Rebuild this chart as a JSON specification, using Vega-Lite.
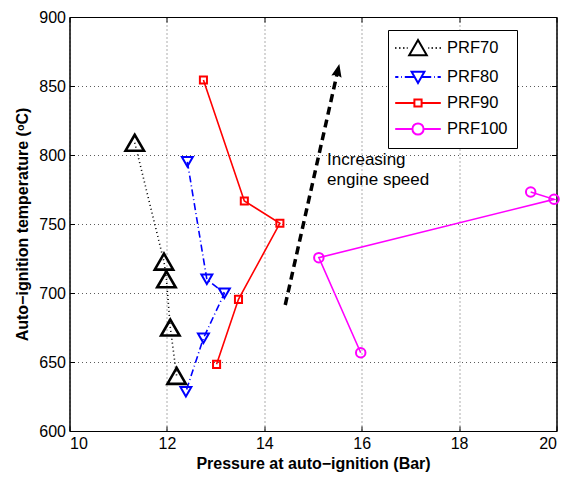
{
  "$schema": "https://vega.github.io/schema/vega-lite/v6.json",
  "width": 487,
  "height": 414,
  "autosize": {"type": "none"},
  "padding": {"left": 69.5, "top": 17, "right": 9.5, "bottom": 48},
  "background": "white",
  "config": {
    "font": "Liberation Sans",
    "view": {"stroke": "black", "strokeWidth": 1},
    "axis": {
      "labelFontSize": 16,
      "labelColor": "black",
      "titleColor": "black",
      "titleFontSize": 16,
      "titleFontWeight": "bold",
      "domainColor": "black",
      "tickColor": "black",
      "tickSize": -5,
      "labelPadding": 9
    },
    "legend": {
      "title": null, "orient": "none", "legendX": 318.5, "legendY": 13,
      "strokeColor": "black", "fillColor": "white", "padding": 9,
      "labelFontSize": 16.5, "labelColor": "black", "symbolSize": 256, "rowPadding": 7, "labelOffset": 20, "symbolOffset": 12,
      "symbolStrokeWidth": 2
    }
  },
  "datasets": {
    "series": [
      {"series": "PRF70", "p": 11.34, "t": 808.9, "ord": 1},
      {"series": "PRF70", "p": 11.94, "t": 722.7, "ord": 2},
      {"series": "PRF70", "p": 11.99, "t": 709.9, "ord": 3},
      {"series": "PRF70", "p": 12.07, "t": 675.0, "ord": 4},
      {"series": "PRF70", "p": 12.2, "t": 639.9, "ord": 5},
      {"series": "PRF80", "p": 12.42, "t": 795.1, "ord": 1},
      {"series": "PRF80", "p": 12.82, "t": 709.9, "ord": 2},
      {"series": "PRF80", "p": 13.18, "t": 699.8, "ord": 3},
      {"series": "PRF80", "p": 12.75, "t": 667.2, "ord": 4},
      {"series": "PRF80", "p": 12.39, "t": 628.5, "ord": 5},
      {"series": "PRF90", "p": 12.75, "t": 854.3, "ord": 1},
      {"series": "PRF90", "p": 13.59, "t": 766.7, "ord": 2},
      {"series": "PRF90", "p": 14.32, "t": 750.5, "ord": 3},
      {"series": "PRF90", "p": 13.47, "t": 695.4, "ord": 4},
      {"series": "PRF90", "p": 13.02, "t": 648.3, "ord": 5},
      {"series": "PRF100", "p": 15.98, "t": 656.7, "ord": 1},
      {"series": "PRF100", "p": 15.12, "t": 725.6, "ord": 2},
      {"series": "PRF100", "p": 19.95, "t": 767.9, "ord": 3},
      {"series": "PRF100", "p": 19.47, "t": 773.2, "ord": 4}
    ],
    "arrow": [
      {"p": 14.43, "t": 691.3, "ord": 1},
      {"p": 15.495, "t": 859.0, "ord": 2}
    ],
    "head": [
      {"p": 15.54, "t": 866.0}
    ],
    "note": [
      {"label": "Increasing\nengine speed", "p": 15.29, "t": 792.8}
    ]
  },
  "layer": [
    {
      "data": {"name": "series"},
      "transform": [{"filter": "datum.series == 'PRF90' || datum.series == 'PRF100'"}],
      "mark": {"type": "line", "strokeWidth": 1.6},
      "encoding": {
        "x": {"field": "p", "type": "quantitative", "scale": {"domain": [10, 20], "nice": false, "zero": false},
          "axis": {"values": [10, 12, 14, 16, 18, 20], "title": "Pressure at auto−ignition (Bar)", "grid": true, "gridColor": "#333", "gridDash": [1, 3], "gridOpacity": 0.8, "titlePadding": 4}},
        "y": {"field": "t", "type": "quantitative", "scale": {"domain": [600, 900], "nice": false, "zero": false},
          "axis": {"values": [600, 650, 700, 750, 800, 850, 900], "title": "Auto−ignition temperature (ᵒC)", "grid": true, "gridColor": "#333", "gridDash": [1, 3], "gridOpacity": 0.8, "titlePadding": 8}},
        "color": {"field": "series", "type": "nominal", "scale": {"domain": ["PRF70", "PRF80", "PRF90", "PRF100"], "range": ["#000000", "#0000ff", "#ff0000", "#ff00ff"]},
          "legend": {
            "encode": {"symbols": {"update": {
              "shape": {"signal": "datum.value == 'PRF70' ? 'M-2.85,0L-2.7,0M-2.35,0L-2.2,0M-1.85,0L-1.7,0M-1.4,0L-1.3,0M1.3,0L1.4,0M1.7,0L1.85,0M2.2,0L2.35,0M2.7,0L2.85,0M0,-1L1.1,0.9L-1.1,0.9Z' : datum.value == 'PRF80' ? 'M-2.85,0L-2.45,0M-2.1,0L-2.0,0M-1.65,0L-0.45,0M0.45,0L1.65,0M2.0,0L2.1,0M2.45,0L2.85,0M-0.8,-0.65L0.8,-0.65L0,0.75Z' : datum.value == 'PRF90' ? 'M-2.85,0L-0.45,0M0.45,0L2.85,0M-0.45,-0.45L0.45,-0.45L0.45,0.45L-0.45,0.45Z' : 'M-2.85,0L-0.7,0M0.7,0L2.85,0M-0.7,0A0.7,0.7,0,1,0,0.7,0A0.7,0.7,0,1,0,-0.7,0Z'"},
              "strokeWidth": {"value": 2}
            }}}
          }},
        "order": {"field": "ord", "type": "quantitative"}
      }
    },
    {
      "data": {"name": "series"},
      "transform": [{"filter": "datum.series == 'PRF70'"}],
      "mark": {"type": "line", "strokeWidth": 1.6, "color": "#000000", "strokeDash": [1, 3]},
      "encoding": {
        "x": {"field": "p", "type": "quantitative", "axis": null},
        "y": {"field": "t", "type": "quantitative", "axis": null},
        "order": {"field": "ord", "type": "quantitative"}
      }
    },
    {
      "data": {"name": "series"},
      "transform": [{"filter": "datum.series == 'PRF80'"}],
      "mark": {"type": "line", "strokeWidth": 1.6, "color": "#0000ff", "strokeDash": [7, 3, 1, 3]},
      "encoding": {
        "x": {"field": "p", "type": "quantitative", "axis": null},
        "y": {"field": "t", "type": "quantitative", "axis": null},
        "order": {"field": "ord", "type": "quantitative"}
      }
    },
    {
      "data": {"name": "series"},
      "transform": [{"filter": "datum.series == 'PRF70'"}],
      "mark": {"type": "point", "filled": false, "opacity": 1, "shape": "triangle-up", "size": 340, "strokeWidth": 2.6, "color": "#000000"},
      "encoding": {
        "x": {"field": "p", "type": "quantitative", "axis": {"orient": "top", "labels": false, "title": null, "grid": false, "values": [10, 12, 14, 16, 18, 20]}},
        "y": {"field": "t", "type": "quantitative", "axis": {"orient": "right", "labels": false, "title": null, "grid": false, "values": [600, 650, 700, 750, 800, 850, 900]}}
      }
    },
    {
      "data": {"name": "series"},
      "transform": [{"filter": "datum.series == 'PRF80'"}],
      "mark": {"type": "point", "filled": false, "opacity": 1, "shape": "triangle-down", "size": 120, "strokeWidth": 2, "color": "#0000ff"},
      "encoding": {
        "x": {"field": "p", "type": "quantitative", "axis": null},
        "y": {"field": "t", "type": "quantitative", "axis": null}
      }
    },
    {
      "data": {"name": "series"},
      "transform": [{"filter": "datum.series == 'PRF90'"}],
      "mark": {"type": "point", "filled": false, "opacity": 1, "shape": "square", "size": 50, "strokeWidth": 2, "color": "#ff0000"},
      "encoding": {
        "x": {"field": "p", "type": "quantitative", "axis": null},
        "y": {"field": "t", "type": "quantitative", "axis": null}
      }
    },
    {
      "data": {"name": "series"},
      "transform": [{"filter": "datum.series == 'PRF100'"}],
      "mark": {"type": "point", "filled": false, "opacity": 1, "shape": "circle", "size": 90, "strokeWidth": 2, "color": "#ff00ff"},
      "encoding": {
        "x": {"field": "p", "type": "quantitative", "axis": null},
        "y": {"field": "t", "type": "quantitative", "axis": null}
      }
    },
    {
      "data": {"name": "arrow"},
      "mark": {"type": "line", "color": "black", "strokeWidth": 3.5, "strokeDash": [8, 5]},
      "encoding": {
        "x": {"field": "p", "type": "quantitative", "axis": null},
        "y": {"field": "t", "type": "quantitative", "axis": null},
        "order": {"field": "ord", "type": "quantitative"}
      }
    },
    {
      "data": {"name": "head"},
      "mark": {"type": "point", "filled": true, "color": "black", "opacity": 1, "shape": "M0,0L0.4,1L0,0.85L-0.4,1Z", "size": 676, "angle": 12.6},
      "encoding": {
        "x": {"field": "p", "type": "quantitative", "axis": null},
        "y": {"field": "t", "type": "quantitative", "axis": null}
      }
    },
    {
      "data": {"name": "note"},
      "mark": {"type": "text", "align": "left", "baseline": "alphabetic", "fontSize": 17, "lineBreak": "\n", "lineHeight": 20, "color": "black"},
      "encoding": {
        "x": {"field": "p", "type": "quantitative", "axis": null},
        "y": {"field": "t", "type": "quantitative", "axis": null},
        "text": {"field": "label", "type": "nominal"}
      }
    }
  ],
  "resolve": {"axis": {"x": "independent", "y": "independent"}}
}
